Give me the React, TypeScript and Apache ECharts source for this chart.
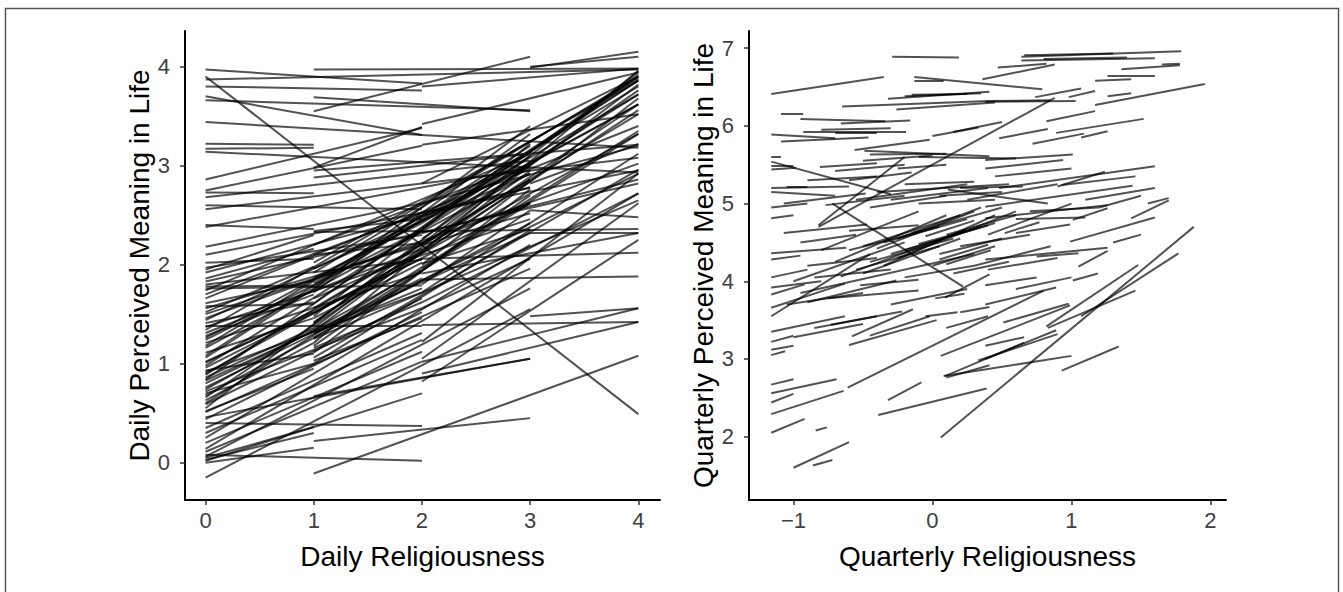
import React, { useEffect, useRef } from "react";
import * as echarts from "echarts";

const dailyTitleX = "Daily Religiousness";
const dailyTitleY = "Daily Perceived Meaning in Life";
const quarterlyTitleX = "Quarterly Religiousness";
const quarterlyTitleY = "Quarterly Perceived Meaning in Life";

const dailyXTicks = [0, 1, 2, 3, 4];
const dailyYTicks = [0, 1, 2, 3, 4];
const quarterlyXTicks = [-1, 0, 1, 2];
const quarterlyYTicks = [2, 3, 4, 5, 6, 7];

// [x1, y1, x2, y2] per person
const dailySegments: number[][] = [
  [0, 3.97, 2, 3.83], [0, 3.9, 4, 0.49], [0, 3.87, 4, 3.97], [0, 3.8, 2, 3.76],
  [0, 3.7, 2, 3.31], [0, 3.66, 3, 3.56], [0, 3.44, 4, 3.18], [0, 3.22, 1, 3.21],
  [0, 3.17, 1, 3.18], [0, 3.14, 4, 2.93], [0, 2.86, 2, 3.38], [0, 2.75, 2, 3.2],
  [0, 2.73, 1, 2.72], [0, 2.68, 3, 3.05], [0, 2.6, 2, 2.56], [0, 2.56, 4, 3.08],
  [0, 2.4, 1, 2.36], [0, 2.38, 3, 2.98], [0, 2.18, 2, 2.62], [0, 2.1, 4, 2.95],
  [0, 2.02, 1, 2.06], [0, 1.97, 2, 2.3], [0, 1.92, 3, 2.78], [0, 1.86, 1, 2.16],
  [0, 1.83, 4, 2.82], [0, 1.8, 2, 2.05], [0, 1.78, 1, 1.79], [0, 1.74, 3, 3.12],
  [0, 1.7, 2, 2.52], [0, 1.66, 4, 3.4], [0, 1.61, 1, 1.84], [0, 1.56, 3, 2.52],
  [0, 1.5, 2, 2.22], [0, 1.46, 4, 3.02], [0, 1.41, 1, 1.62], [0, 1.37, 3, 2.46],
  [0, 1.31, 2, 2.16], [0, 1.26, 4, 3.62], [0, 1.21, 2, 1.92], [0, 1.16, 3, 2.92],
  [0, 1.11, 1, 1.46], [0, 1.06, 4, 3.86], [0, 1.01, 2, 2.06], [0, 0.96, 3, 2.62],
  [0, 0.92, 2, 1.72], [0, 0.89, 4, 3.52], [0, 0.86, 1, 1.36], [0, 0.83, 3, 2.32],
  [0, 0.8, 2, 1.86], [0, 0.76, 4, 2.92], [0, 0.72, 2, 1.56], [0, 0.68, 3, 2.42],
  [0, 0.63, 1, 1.21], [0, 0.59, 2, 1.66], [0, 0.55, 4, 3.95], [0, 0.51, 3, 1.96],
  [0, 0.46, 3, 1.05], [0, 0.4, 2, 0.37], [0, 0.35, 2, 1.31], [0, 0.3, 2, 1.24],
  [0, 0.25, 3, 2.2], [0, 0.2, 2, 1.12], [0, 0.14, 4, 2.72], [0, 0.11, 2, 1.02],
  [0, 0.08, 2, 0.02], [0, 0.06, 3, 1.76], [0, 0.05, 1, 0.36], [0, 0.03, 1, 0.3],
  [0, 0.02, 2, 0.7], [0, 0.0, 1, 0.15], [0, -0.15, 3, 1.55],
  [0, 1.95, 1, 2.3], [0, 1.52, 1, 1.98], [0, 1.28, 1, 1.7], [0, 1.02, 1, 1.52],
  [0, 0.93, 1, 1.1], [0, 0.7, 1, 1.0], [0, 0.52, 1, 0.95], [0, 1.76, 2, 1.79],
  [0, 1.58, 1, 1.6], [0, 1.38, 2, 1.38],
  [0, 1.18, 4, 3.8], [0, 0.98, 4, 3.72], [0, 0.84, 4, 3.9], [0, 1.34, 4, 3.88],
  [0, 0.66, 3, 2.85], [0, 1.08, 3, 3.2], [0, 0.9, 2, 2.12], [0, 1.24, 2, 2.35],
  [0, 0.74, 2, 1.95], [0, 0.44, 2, 1.52], [0, 1.44, 3, 3.0], [0, 0.6, 4, 3.35],
  [1, 3.97, 4, 3.98], [1, 3.55, 3, 4.1], [1, 3.69, 3, 3.55], [1, 2.98, 2, 3.39],
  [1, 2.95, 4, 3.21], [1, 2.88, 3, 3.12], [1, 2.34, 2, 2.46], [1, 2.33, 4, 2.36],
  [1, 2.2, 3, 3.02], [1, 2.1, 2, 2.22], [1, 2.02, 4, 3.86], [1, 1.96, 3, 2.92],
  [1, 1.87, 2, 2.42], [1, 1.81, 4, 3.72], [1, 1.72, 3, 3.32], [1, 1.66, 2, 2.12],
  [1, 1.61, 4, 3.92], [1, 1.56, 3, 2.86], [1, 1.51, 4, 3.32], [1, 1.46, 2, 2.02],
  [1, 1.41, 3, 3.02], [1, 1.36, 4, 3.82], [1, 1.31, 2, 1.76], [1, 1.26, 3, 2.62],
  [1, 1.21, 4, 3.96], [1, 1.16, 2, 1.62], [1, 1.11, 3, 2.76], [1, 1.06, 4, 2.96],
  [1, 1.03, 2, 1.46], [1, 0.67, 3, 1.05], [1, 0.22, 3, 0.45], [1, -0.11, 4, 1.08],
  [1, 1.25, 4, 2.65], [1, 1.0, 3, 2.35],
  [1, 1.48, 3, 3.22], [1, 1.33, 3, 2.95], [1, 1.18, 3, 2.7], [1, 1.76, 3, 3.4],
  [1, 1.92, 4, 3.9], [1, 1.42, 4, 3.62],
  [2, 3.8, 4, 3.98], [2, 3.42, 4, 3.94], [2, 3.21, 4, 3.52], [2, 2.82, 4, 3.9],
  [2, 2.62, 4, 3.2], [2, 2.52, 3, 2.78], [2, 2.42, 4, 3.86], [2, 2.32, 4, 2.86],
  [2, 2.22, 3, 2.62], [2, 2.12, 4, 3.56], [2, 2.06, 4, 2.12], [2, 2.01, 3, 2.36],
  [2, 1.96, 4, 3.32], [2, 1.91, 4, 2.32], [2, 1.85, 4, 1.88], [2, 1.72, 4, 3.12],
  [2, 1.56, 3, 2.06], [2, 1.39, 4, 1.42], [2, 1.22, 4, 2.92], [2, 1.05, 4, 2.62],
  [2, 1.02, 4, 1.56], [2, 0.9, 4, 1.42], [2, 0.82, 4, 2.25], [2, 1.62, 4, 2.72],
  [2, 2.26, 4, 3.76], [2, 2.0, 4, 3.68], [2, 2.36, 3, 3.1], [2, 1.8, 3, 2.55],
  [3, 3.99, 4, 4.15], [3, 4.0, 4, 4.1], [3, 3.02, 4, 3.62], [3, 2.82, 4, 3.22],
  [3, 2.32, 4, 2.32], [3, 1.48, 4, 1.56], [3, 2.55, 4, 2.48],
];

const quarterlySegments: number[][] = [
  [-1.16, 6.41, -0.35, 6.63], [-0.29, 6.89, 0.19, 6.88], [-0.13, 6.63, 0.79, 6.47],
  [-0.13, 6.58, 0.08, 6.58], [0.36, 6.6, 0.88, 6.79], [0.47, 6.75, 0.82, 6.8],
  [0.64, 6.89, 1.79, 6.96], [0.66, 6.91, 1.3, 6.93], [0.64, 6.84, 1.6, 6.87],
  [0.8, 6.86, 1.4, 6.88], [1.36, 6.73, 1.78, 6.78], [1.65, 6.79, 1.78, 6.8],
  [1.26, 6.65, 1.6, 6.65], [1.17, 6.58, 1.43, 6.6], [-0.32, 6.35, 0.41, 6.44],
  [-0.2, 6.38, 0.35, 6.42], [-0.15, 6.4, 0.25, 6.41], [0.38, 6.31, 1.03, 6.32],
  [0.74, 6.37, 1.07, 6.48], [0.98, 6.37, 1.17, 6.45], [1.26, 6.38, 1.43, 6.42],
  [1.17, 6.27, 1.96, 6.54], [-0.65, 6.25, 0.41, 6.32], [-0.26, 6.21, 0.45, 6.3],
  [0.41, 6.32, 0.85, 6.33],
  [-1.09, 6.16, -0.93, 6.16], [-0.95, 6.09, -0.34, 6.06], [-0.66, 6.03, -0.16, 6.07],
  [-0.93, 5.93, -0.19, 5.93], [-0.8, 5.95, -0.3, 5.97], [-0.7, 5.91, -0.4, 5.91],
  [-1.16, 5.89, -0.7, 5.84], [-1.09, 5.8, -0.46, 5.85], [0.0, 5.87, 0.33, 5.98],
  [0.15, 5.92, 0.5, 6.05], [0.82, 6.06, 1.17, 6.19], [0.48, 5.84, 0.83, 5.96],
  [0.89, 5.91, 1.52, 6.09], [0.72, 5.77, 1.09, 5.9], [1.07, 5.85, 1.26, 5.93],
  [-0.49, 5.68, 0.41, 5.61], [-0.56, 5.69, -0.02, 5.82], [0.38, 5.56, 1.01, 5.63],
  [0.38, 5.45, 0.94, 5.56], [-0.45, 5.63, 0.1, 5.64], [-1.16, 5.6, -1.09, 5.6],
  [-0.1, 5.6, 0.6, 5.58],
  [-1.16, 5.54, -0.3, 5.12], [-1.16, 5.49, -1.0, 5.49], [-1.16, 5.44, -0.98, 5.46],
  [-0.81, 5.47, -0.4, 5.52], [-0.7, 5.42, -0.2, 5.5], [-1.16, 5.2, -0.6, 5.22],
  [-1.05, 5.22, -0.9, 5.22], [-1.07, 5.0, -0.48, 5.13], [-0.77, 4.98, -0.2, 5.1],
  [-1.16, 4.81, -1.0, 4.85], [-0.82, 4.72, -0.2, 5.6], [-0.55, 5.05, 0.25, 5.25],
  [-0.4, 5.15, 0.55, 5.25], [-0.3, 5.05, 0.4, 5.2], [-0.2, 5.25, 0.3, 5.28],
  [0.11, 5.18, 0.83, 5.0], [0.2, 5.2, 0.65, 5.22], [0.48, 5.2, 1.6, 5.48],
  [0.9, 5.22, 1.24, 5.41], [0.93, 5.24, 1.46, 5.35], [0.38, 4.96, 1.44, 5.23],
  [0.38, 4.81, 1.26, 4.98], [0.6, 4.8, 1.1, 4.82], [1.01, 4.79, 1.26, 4.94],
  [1.43, 4.81, 1.7, 5.04], [1.55, 5.0, 1.7, 5.07], [-0.45, 4.95, 0.1, 5.1],
  [-0.1, 5.0, 0.45, 5.05], [0.05, 5.1, 0.5, 5.15], [-0.6, 5.3, -0.15, 5.4],
  [-0.25, 5.45, 0.1, 5.5], [-0.5, 5.55, 0.0, 5.62], [0.7, 4.9, 1.2, 4.95],
  [1.1, 5.05, 1.6, 5.2],
  [-1.07, 4.62, -0.47, 4.73], [-1.16, 4.36, -0.62, 4.43], [-1.16, 4.28, -0.95, 4.33],
  [-0.6, 4.4, 0.05, 4.7], [-0.5, 4.45, 0.2, 4.85], [-0.4, 4.42, 0.3, 4.9],
  [-0.35, 4.5, 0.25, 4.8], [-0.3, 4.35, 0.4, 4.72], [-0.25, 4.55, 0.35, 4.95],
  [-0.2, 4.4, 0.45, 4.75], [-0.15, 4.62, 0.5, 4.95], [-0.1, 4.48, 0.35, 4.7],
  [-0.05, 4.58, 0.3, 4.78], [-0.45, 4.25, 0.15, 4.55], [-0.55, 4.15, 0.05, 4.45],
  [-0.66, 4.06, 0.24, 4.66], [-0.72, 5.0, 0.22, 3.93], [0.1, 4.6, 0.6, 4.85],
  [0.52, 4.62, 0.77, 4.76], [0.6, 4.62, 0.99, 4.73], [0.99, 4.51, 1.6, 4.82],
  [0.38, 4.28, 1.26, 4.43], [0.75, 4.32, 1.05, 4.36], [1.05, 4.19, 1.26, 4.39],
  [0.2, 4.45, 0.7, 4.6], [0.3, 4.2, 0.85, 4.45], [0.4, 4.15, 0.9, 4.3],
  [-0.9, 4.2, -0.4, 4.3], [-0.85, 4.05, -0.3, 4.15], [-0.6, 4.65, -0.1, 4.72],
  [-0.95, 4.5, -0.55, 4.6], [0.05, 4.35, 0.5, 4.55], [0.15, 4.1, 0.55, 4.25],
  [-0.2, 4.05, 0.3, 4.2],
  [-0.7, 4.25, 0.1, 4.85], [-0.5, 4.1, 0.2, 4.55], [-0.35, 4.2, 0.45, 4.85],
  [-0.8, 4.4, -0.1, 4.9], [-0.25, 4.3, 0.6, 4.9], [0.0, 4.2, 0.45, 4.45],
  [0.05, 4.28, 0.4, 4.47], [0.1, 4.22, 0.42, 4.4], [-1.0, 4.0, -0.2, 4.5],
  [-0.95, 3.85, 0.3, 4.35], [0.4, 4.6, 1.0, 5.0], [1.2, 4.95, 1.5, 5.1],
  [1.3, 4.5, 1.5, 4.6], [-1.16, 5.15, -0.7, 5.1], [-1.16, 4.95, -0.9, 5.0],
  [-1.16, 3.92, -0.8, 4.0], [-1.16, 4.05, -0.9, 4.15], [0.45, 5.35, 1.0, 5.45],
  [-0.9, 5.3, -0.4, 5.35], [0.25, 5.05, 0.9, 5.25],
  [-1.16, 3.83, -0.92, 3.96], [-1.16, 3.66, -0.63, 3.97], [-1.16, 3.55, -0.45, 4.35],
  [-1.05, 3.7, -0.5, 3.85], [-0.9, 3.73, -0.26, 4.01], [-0.75, 3.78, -0.1, 3.88],
  [-1.16, 3.35, -0.63, 3.55], [-1.0, 3.28, -0.5, 3.45], [-1.16, 3.22, -1.0, 3.3],
  [-1.16, 3.12, -1.0, 3.17], [-1.16, 3.05, -1.06, 3.1], [-0.73, 3.44, -0.22, 3.61],
  [-0.85, 3.4, -0.4, 3.55], [-0.58, 3.29, -0.14, 3.64], [-0.45, 3.3, -0.02, 3.55],
  [-0.6, 3.18, 0.03, 3.5], [-0.52, 3.95, -0.1, 4.02], [0.02, 3.78, 0.23, 3.84],
  [-0.05, 3.55, 0.18, 3.6], [0.09, 3.79, 0.41, 4.09], [0.2, 3.6, 0.41, 3.67],
  [0.38, 3.7, 0.89, 3.92], [0.51, 3.47, 0.98, 3.71], [0.82, 3.42, 1.48, 4.21],
  [1.07, 3.55, 1.77, 4.36], [1.01, 4.01, 1.19, 4.1], [0.38, 3.95, 0.75, 4.05],
  [0.6, 3.9, 1.0, 4.05], [-0.3, 3.7, 0.25, 3.9], [0.1, 3.4, 0.4, 3.55],
  [-1.16, 2.67, -1.0, 2.74], [-1.16, 2.56, -0.69, 2.74], [-0.61, 2.63, 0.8, 3.88],
  [0.38, 3.17, 0.66, 3.28], [0.38, 3.0, 0.89, 3.37], [0.08, 2.78, 1.0, 3.04],
  [0.33, 2.98, 0.9, 3.32], [0.09, 2.78, 0.66, 3.21], [0.93, 2.85, 1.34, 3.16],
  [-0.32, 2.47, -0.08, 2.7], [0.06, 3.04, 0.99, 3.69], [0.83, 3.4, 1.46, 3.88],
  [0.1, 2.76, 0.41, 2.92],
  [-1.16, 2.44, -1.0, 2.55], [-1.16, 2.29, -0.64, 2.59], [-1.16, 2.05, -0.92, 2.23],
  [-0.84, 2.08, -0.76, 2.12], [-1.0, 1.6, -0.6, 1.93], [-0.86, 1.63, -0.72, 1.7],
  [-0.39, 2.28, 0.39, 2.62], [0.06, 1.99, 1.88, 4.7], [-0.82, 4.7, 0.88, 6.36],
];

const FONT = "'Liberation Sans', Arial, Helvetica, sans-serif";

function toLines(segs: number[][]) {
  return segs.map(([x1, y1, x2, y2]) => ({ coords: [[x1, y1], [x2, y2]] }));
}

function axisBase(ticks: number[], margin: number) {
  return {
    type: "value" as const,
    splitLine: { show: false },
    axisLine: { show: true, onZero: false, lineStyle: { color: "#000", width: 2 } },
    axisTick: { show: true, length: 5, customValues: ticks, lineStyle: { color: "#333", width: 1.5 } },
    axisLabel: {
      customValues: ticks,
      fontSize: 22,
      color: "#404040",
      fontFamily: FONT,
      margin,
      formatter: (v: number) => String(v).replace("-", "\u2212"),
    },
    nameLocation: "middle" as const,
    nameTextStyle: { fontSize: 28, color: "#000", fontFamily: FONT },
  };
}

export default function App() {
  const ref = useRef<HTMLDivElement>(null);
  useEffect(() => {
    document.body.style.margin = "0";
    const chart = echarts.init(ref.current!, null, { renderer: "svg" });
    const lineStyle = { color: "#000", width: 2, opacity: 0.68 };
    chart.setOption({
      animation: false,
      backgroundColor: "#fff",
      grid: [
        { left: 185, top: 31, width: 475, height: 469 },
        { left: 749, top: 31, width: 477, height: 469 },
      ],
      xAxis: [
        { ...axisBase(dailyXTicks, 9), gridIndex: 0, min: -0.19, max: 4.2, name: dailyTitleX, nameGap: 42 },
        { ...axisBase(quarterlyXTicks, 9), gridIndex: 1, min: -1.32, max: 2.112, name: quarterlyTitleX, nameGap: 42 },
      ],
      yAxis: [
        { ...axisBase(dailyYTicks, 15), gridIndex: 0, min: -0.377, max: 4.36, name: dailyTitleY, nameGap: 30 },
        { ...axisBase(quarterlyYTicks, 15), gridIndex: 1, min: 1.185, max: 7.221, name: quarterlyTitleY, nameGap: 30 },
      ],
      series: [
        {
          type: "lines", coordinateSystem: "cartesian2d", xAxisIndex: 0, yAxisIndex: 0,
          data: toLines(dailySegments), lineStyle, silent: true,
        },
        {
          type: "lines", coordinateSystem: "cartesian2d", xAxisIndex: 1, yAxisIndex: 1,
          data: toLines(quarterlySegments), lineStyle, silent: true,
        },
      ],
      graphic: [
        {
          type: "rect", silent: true, z: -10,
          shape: { x: 5.5, y: 8.5, width: 1333, height: 620 },
          style: { fill: "none", stroke: "#555", lineWidth: 1.5 },
        },
      ],
    });
    return () => chart.dispose();
  }, []);
  return (
    <div
      ref={ref}
      style={{ position: "absolute", left: 0, top: 0, width: 1343, height: 592, background: "#fff" }}
    />
  );
}
